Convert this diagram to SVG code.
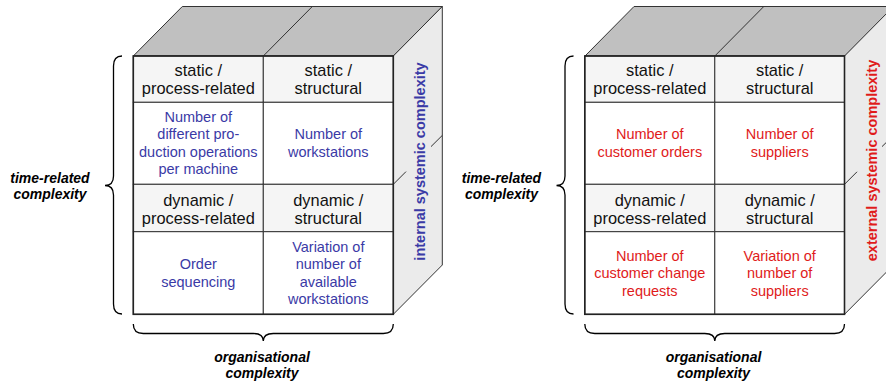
<svg xmlns="http://www.w3.org/2000/svg" width="886" height="387" viewBox="0 0 886 387">
<style>
  .top{fill:#c0c0c0;stroke:#333;stroke-width:1}
  .side{fill:#ebebeb;stroke:#333;stroke-width:1}
  .hdr{fill:#f5f5f5;stroke:#333;stroke-width:1}
  .cell{fill:#fff;stroke:#333;stroke-width:1}
  .frame{fill:none;stroke:#222;stroke-width:1.6}
  .ln{fill:none;stroke:#333;stroke-width:1}
  .brace{fill:none;stroke:#000;stroke-width:1.3}
  text{font-family:"Liberation Sans",Arial,sans-serif;text-anchor:middle}
  .h{font-size:16.4px;fill:#111}
  .b{font-size:14.5px;fill:#3a3aa6}
  .r{font-size:14.5px;fill:#e01b1b}
  .vb{font-size:14.5px;font-weight:bold;fill:#3a3aa6}
  .vr{font-size:14.5px;font-weight:bold;fill:#e01b1b}
  .lab{font-size:14px;font-weight:bold;font-style:italic;fill:#000}
</style>

<!-- LEFT CUBE -->
<g id="cube-internal">
  <g id="int-top">
    <polygon class="top" points="133.3,56 182.3,6.5 442.3,6.5 393.3,56"/>
    <line class="ln" x1="263.3" y1="56" x2="312.3" y2="6.5"/>
  </g>
  <g id="int-side">
    <polygon class="side" points="393.3,56 442.3,6.5 442.3,265 393.3,314.3"/>
    <line class="ln" x1="393.3" y1="184.3" x2="406" y2="171.6"/>
    <line class="ln" x1="431" y1="146.6" x2="442.3" y2="135.4"/>
    <text class="vb" transform="translate(424.5,161.5) rotate(-90)">internal systemic complexity</text>
  </g>
  <g id="int-static-process">
    <rect class="hdr" x="133.3" y="56" width="130" height="46.3"/>
    <text class="h" x="198.3" y="76">static /</text>
    <text class="h" x="198.3" y="94">process-related</text>
  </g>
  <g id="int-static-structural">
    <rect class="hdr" x="263.3" y="56" width="130" height="46.3"/>
    <text class="h" x="328.3" y="76">static /</text>
    <text class="h" x="328.3" y="94">structural</text>
  </g>
  <g id="int-cell-operations">
    <rect class="cell" x="133.3" y="102.3" width="130" height="82"/>
    <text class="b" x="198.3" y="121.8">Number of</text>
    <text class="b" x="198.3" y="139.3">different pro-</text>
    <text class="b" x="198.3" y="156.8">duction operations</text>
    <text class="b" x="198.3" y="174.3">per machine</text>
  </g>
  <g id="int-cell-workstations">
    <rect class="cell" x="263.3" y="102.3" width="130" height="82"/>
    <text class="b" x="328.3" y="139.3">Number of</text>
    <text class="b" x="328.3" y="156.8">workstations</text>
  </g>
  <g id="int-dynamic-process">
    <rect class="hdr" x="133.3" y="184.3" width="130" height="47.4"/>
    <text class="h" x="198.3" y="205.5">dynamic /</text>
    <text class="h" x="198.3" y="223.5">process-related</text>
  </g>
  <g id="int-dynamic-structural">
    <rect class="hdr" x="263.3" y="184.3" width="130" height="47.4"/>
    <text class="h" x="328.3" y="205.5">dynamic /</text>
    <text class="h" x="328.3" y="223.5">structural</text>
  </g>
  <g id="int-cell-sequencing">
    <rect class="cell" x="133.3" y="231.7" width="130" height="82.6"/>
    <text class="b" x="198.3" y="269.3">Order</text>
    <text class="b" x="198.3" y="286.8">sequencing</text>
  </g>
  <g id="int-cell-variation">
    <rect class="cell" x="263.3" y="231.7" width="130" height="82.6"/>
    <text class="b" x="328.3" y="251.8">Variation of</text>
    <text class="b" x="328.3" y="269.3">number of</text>
    <text class="b" x="328.3" y="286.8">available</text>
    <text class="b" x="328.3" y="304.3">workstations</text>
  </g>
  <rect class="frame" x="133.3" y="56" width="260" height="258.3"/>
  <g id="int-time-label">
    <path class="brace" d="M122,56 Q113.5,56 113.5,66 L113.5,176 Q113.5,185.5 105,185.5 Q113.5,185.5 113.5,195 L113.5,304 Q113.5,314 122,314"/>
    <text class="lab" x="50" y="182.5">time-related</text>
    <text class="lab" x="50" y="198.5">complexity</text>
  </g>
  <g id="int-org-label">
    <path class="brace" d="M133.3,324 Q133.3,333.5 143.3,333.5 L253.3,333.5 Q263.3,333.5 263.3,341 Q263.3,333.5 273.3,333.5 L383.3,333.5 Q393.3,333.5 393.3,324"/>
    <text class="lab" x="262" y="362">organisational</text>
    <text class="lab" x="262" y="378">complexity</text>
  </g>
</g>

<!-- RIGHT CUBE -->
<g id="cube-external">
  <g id="ext-top">
    <polygon class="top" points="585,56 634,6.5 894,6.5 845,56"/>
    <line class="ln" x1="714.8" y1="56" x2="763.8" y2="6.5"/>
  </g>
  <g id="ext-side">
    <polygon class="side" points="844.5,56 893.5,6.5 893.5,265 844.5,314.3"/>
    <line class="ln" x1="844.5" y1="184.3" x2="857" y2="171.8"/>
    <line class="ln" x1="882" y1="146.6" x2="893.5" y2="135.4"/>
    <text class="vr" transform="translate(877,160.5) rotate(-90)">external systemic complexity</text>
  </g>
  <g id="ext-static-process">
    <rect class="hdr" x="584.8" y="56" width="130" height="46.3"/>
    <text class="h" x="649.8" y="76">static /</text>
    <text class="h" x="649.8" y="94">process-related</text>
  </g>
  <g id="ext-static-structural">
    <rect class="hdr" x="714.8" y="56" width="129.7" height="46.3"/>
    <text class="h" x="779.7" y="76">static /</text>
    <text class="h" x="779.7" y="94">structural</text>
  </g>
  <g id="ext-cell-orders">
    <rect class="cell" x="584.8" y="102.3" width="130" height="82"/>
    <text class="r" x="649.8" y="139.3">Number of</text>
    <text class="r" x="649.8" y="156.8">customer orders</text>
  </g>
  <g id="ext-cell-suppliers">
    <rect class="cell" x="714.8" y="102.3" width="129.7" height="82"/>
    <text class="r" x="779.7" y="139.3">Number of</text>
    <text class="r" x="779.7" y="156.8">suppliers</text>
  </g>
  <g id="ext-dynamic-process">
    <rect class="hdr" x="584.8" y="184.3" width="130" height="47.4"/>
    <text class="h" x="649.8" y="205.5">dynamic /</text>
    <text class="h" x="649.8" y="223.5">process-related</text>
  </g>
  <g id="ext-dynamic-structural">
    <rect class="hdr" x="714.8" y="184.3" width="129.7" height="47.4"/>
    <text class="h" x="779.7" y="205.5">dynamic /</text>
    <text class="h" x="779.7" y="223.5">structural</text>
  </g>
  <g id="ext-cell-change">
    <rect class="cell" x="584.8" y="231.7" width="130" height="82.6"/>
    <text class="r" x="649.8" y="260.5">Number of</text>
    <text class="r" x="649.8" y="278">customer change</text>
    <text class="r" x="649.8" y="295.5">requests</text>
  </g>
  <g id="ext-cell-variation">
    <rect class="cell" x="714.8" y="231.7" width="129.7" height="82.6"/>
    <text class="r" x="779.7" y="260.5">Variation of</text>
    <text class="r" x="779.7" y="278">number of</text>
    <text class="r" x="779.7" y="295.5">suppliers</text>
  </g>
  <rect class="frame" x="584.8" y="56" width="259.7" height="258.3"/>
  <g id="ext-time-label">
    <path class="brace" d="M573.5,56 Q565,56 565,66 L565,176 Q565,185.5 556.5,185.5 Q565,185.5 565,195 L565,304 Q565,314 573.5,314"/>
    <text class="lab" x="501.5" y="182.5">time-related</text>
    <text class="lab" x="501.5" y="198.5">complexity</text>
  </g>
  <g id="ext-org-label">
    <path class="brace" d="M584.8,324 Q584.8,333.5 594.8,333.5 L704.8,333.5 Q714.8,333.5 714.8,341 Q714.8,333.5 724.8,333.5 L834.5,333.5 Q844.5,333.5 844.5,324"/>
    <text class="lab" x="713.5" y="362">organisational</text>
    <text class="lab" x="713.5" y="378">complexity</text>
  </g>
</g>
</svg>
